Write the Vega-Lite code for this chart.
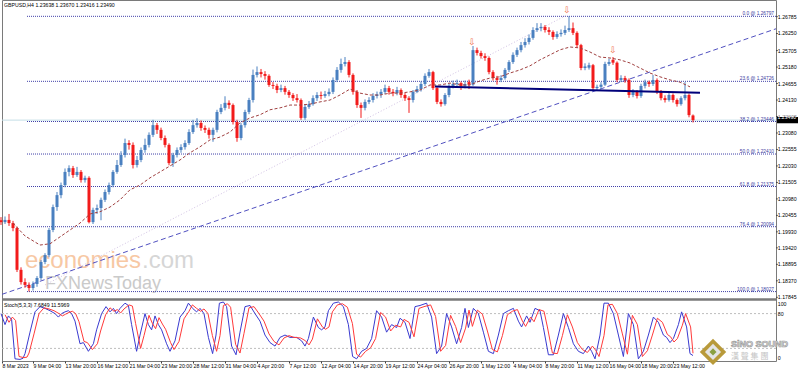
{
"$schema":"https://vega.github.io/schema/vega-lite/v6.json",
"width":774,"height":361,"autosize":"none",
"padding":{"left":2,"top":0,"right":22,"bottom":11},
"background":"#ffffff",
"config":{"view":{"stroke":"#7a7a7a"},"axis":{"labelFont":"Liberation Sans","labelFontSize":5.2,"labelColor":"#000000","domain":false,"grid":false,"tickColor":"#404040","tickSize":2,"labelPadding":0,"labelOverlap":false},"text":{"font":"Liberation Sans"}},
"datasets":{
"c":[
{"i":0,"o":1.2030,"h":1.2040,"l":1.2015,"c":1.2024},{"i":2,"o":1.2024,"h":1.2042,"l":1.2018,"c":1.2031},{"i":4,"o":1.2031,"h":1.2050,"l":1.2012,"c":1.2021},{"i":6,"o":1.2021,"h":1.2028,"l":1.1995,"c":1.2005},{"i":8,"o":1.2005,"h":1.2010,"l":1.1865,"c":1.1872},{"i":10,"o":1.1872,"h":1.1880,"l":1.1825,"c":1.1833},{"i":12,"o":1.1833,"h":1.1845,"l":1.1815,"c":1.1824},{"i":14,"o":1.1824,"h":1.1832,"l":1.1803,"c":1.1814},{"i":16,"o":1.1814,"h":1.1835,"l":1.1806,"c":1.1827},{"i":18,"o":1.1827,"h":1.1852,"l":1.1818,"c":1.1846},
{"i":20,"o":1.1846,"h":1.1903,"l":1.1840,"c":1.1897},{"i":22,"o":1.1897,"h":1.1925,"l":1.1890,"c":1.1919},{"i":24,"o":1.1919,"h":1.2005,"l":1.1912,"c":1.1999},{"i":26,"o":1.1999,"h":1.2080,"l":1.1992,"c":1.2072},{"i":28,"o":1.2072,"h":1.2120,"l":1.2060,"c":1.2110},{"i":30,"o":1.2110,"h":1.2150,"l":1.2100,"c":1.2142},{"i":32,"o":1.2142,"h":1.2195,"l":1.2135,"c":1.2184},{"i":34,"o":1.2184,"h":1.2205,"l":1.2170,"c":1.2196},{"i":36,"o":1.2196,"h":1.2203,"l":1.2165,"c":1.2174},{"i":38,"o":1.2174,"h":1.2200,"l":1.2168,"c":1.2184},
{"i":40,"o":1.2184,"h":1.2190,"l":1.2150,"c":1.2158},{"i":42,"o":1.2158,"h":1.2172,"l":1.2150,"c":1.2165},{"i":44,"o":1.2165,"h":1.2170,"l":1.2020,"c":1.2024},{"i":46,"o":1.2024,"h":1.2070,"l":1.2018,"c":1.2063},{"i":48,"o":1.2063,"h":1.2080,"l":1.2050,"c":1.2069},{"i":50,"o":1.2069,"h":1.2102,"l":1.2030,"c":1.2095},{"i":52,"o":1.2095,"h":1.2128,"l":1.2088,"c":1.2120},{"i":54,"o":1.2120,"h":1.2150,"l":1.2112,"c":1.2142},{"i":56,"o":1.2142,"h":1.2190,"l":1.2135,"c":1.2184},{"i":58,"o":1.2184,"h":1.2222,"l":1.2178,"c":1.2206},
{"i":60,"o":1.2206,"h":1.2250,"l":1.2200,"c":1.2238},{"i":62,"o":1.2238,"h":1.2290,"l":1.2230,"c":1.2276},{"i":64,"o":1.2276,"h":1.2285,"l":1.2255,"c":1.2270},{"i":66,"o":1.2270,"h":1.2278,"l":1.2195,"c":1.2206},{"i":68,"o":1.2206,"h":1.2235,"l":1.2198,"c":1.2222},{"i":70,"o":1.2222,"h":1.2262,"l":1.2215,"c":1.2254},{"i":72,"o":1.2254,"h":1.2290,"l":1.2245,"c":1.2270},{"i":74,"o":1.2270,"h":1.2310,"l":1.2262,"c":1.2302},{"i":76,"o":1.2302,"h":1.2350,"l":1.2295,"c":1.2333},{"i":78,"o":1.2333,"h":1.2340,"l":1.2305,"c":1.2318},
{"i":80,"o":1.2318,"h":1.2325,"l":1.2285,"c":1.2292},{"i":82,"o":1.2292,"h":1.2300,"l":1.2262,"c":1.2270},{"i":84,"o":1.2270,"h":1.2275,"l":1.2205,"c":1.2212},{"i":86,"o":1.2212,"h":1.2245,"l":1.2200,"c":1.2238},{"i":88,"o":1.2238,"h":1.2262,"l":1.2230,"c":1.2254},{"i":90,"o":1.2254,"h":1.2272,"l":1.2245,"c":1.2263},{"i":92,"o":1.2263,"h":1.2285,"l":1.2255,"c":1.2276},{"i":94,"o":1.2276,"h":1.2320,"l":1.2270,"c":1.2311},{"i":96,"o":1.2311,"h":1.2350,"l":1.2305,"c":1.2333},{"i":98,"o":1.2333,"h":1.2355,"l":1.2325,"c":1.2340},
{"i":100,"o":1.2340,"h":1.2348,"l":1.2315,"c":1.2324},{"i":102,"o":1.2324,"h":1.2332,"l":1.2308,"c":1.2318},{"i":104,"o":1.2318,"h":1.2325,"l":1.2290,"c":1.2302},{"i":106,"o":1.2302,"h":1.2325,"l":1.2280,"c":1.2318},{"i":108,"o":1.2318,"h":1.2382,"l":1.2310,"c":1.2375},{"i":110,"o":1.2375,"h":1.2400,"l":1.2368,"c":1.2388},{"i":112,"o":1.2388,"h":1.2425,"l":1.2380,"c":1.2404},{"i":114,"o":1.2404,"h":1.2412,"l":1.2385,"c":1.2397},{"i":116,"o":1.2397,"h":1.2402,"l":1.2335,"c":1.2343},{"i":118,"o":1.2343,"h":1.2350,"l":1.2280,"c":1.2292},
{"i":120,"o":1.2292,"h":1.2340,"l":1.2285,"c":1.2333},{"i":122,"o":1.2333,"h":1.2382,"l":1.2325,"c":1.2375},{"i":124,"o":1.2375,"h":1.2420,"l":1.2368,"c":1.2413},{"i":126,"o":1.2413,"h":1.2510,"l":1.2405,"c":1.2493},{"i":128,"o":1.2493,"h":1.2520,"l":1.2485,"c":1.2502},{"i":130,"o":1.2502,"h":1.2512,"l":1.2485,"c":1.2496},{"i":132,"o":1.2496,"h":1.2505,"l":1.2478,"c":1.2490},{"i":134,"o":1.2490,"h":1.2495,"l":1.2455,"c":1.2461},{"i":136,"o":1.2461,"h":1.2470,"l":1.2448,"c":1.2458},{"i":138,"o":1.2458,"h":1.2465,"l":1.2435,"c":1.2445},
{"i":140,"o":1.2445,"h":1.2462,"l":1.2438,"c":1.2451},{"i":142,"o":1.2451,"h":1.2458,"l":1.2430,"c":1.2439},{"i":144,"o":1.2439,"h":1.2445,"l":1.2420,"c":1.2429},{"i":146,"o":1.2429,"h":1.2435,"l":1.2410,"c":1.2419},{"i":148,"o":1.2419,"h":1.2432,"l":1.2405,"c":1.2413},{"i":150,"o":1.2413,"h":1.2418,"l":1.2350,"c":1.2356},{"i":152,"o":1.2356,"h":1.2398,"l":1.2350,"c":1.2391},{"i":154,"o":1.2391,"h":1.2410,"l":1.2385,"c":1.2400},{"i":156,"o":1.2400,"h":1.2428,"l":1.2395,"c":1.2419},{"i":158,"o":1.2419,"h":1.2438,"l":1.2410,"c":1.2429},
{"i":160,"o":1.2429,"h":1.2440,"l":1.2415,"c":1.2426},{"i":162,"o":1.2426,"h":1.2442,"l":1.2420,"c":1.2432},{"i":164,"o":1.2432,"h":1.2450,"l":1.2425,"c":1.2439},{"i":166,"o":1.2439,"h":1.2485,"l":1.2432,"c":1.2477},{"i":168,"o":1.2477,"h":1.2518,"l":1.2470,"c":1.2509},{"i":170,"o":1.2509,"h":1.2545,"l":1.2500,"c":1.2528},{"i":172,"o":1.2528,"h":1.2550,"l":1.2520,"c":1.2534},{"i":174,"o":1.2534,"h":1.2540,"l":1.2485,"c":1.2493},{"i":176,"o":1.2493,"h":1.2498,"l":1.2430,"c":1.2439},{"i":178,"o":1.2439,"h":1.2445,"l":1.2388,"c":1.2397},
{"i":180,"o":1.2397,"h":1.2405,"l":1.2356,"c":1.2388},{"i":182,"o":1.2388,"h":1.2415,"l":1.2380,"c":1.2407},{"i":184,"o":1.2407,"h":1.2422,"l":1.2400,"c":1.2413},{"i":186,"o":1.2413,"h":1.2435,"l":1.2405,"c":1.2426},{"i":188,"o":1.2426,"h":1.2440,"l":1.2418,"c":1.2431},{"i":190,"o":1.2431,"h":1.2448,"l":1.2420,"c":1.2439},{"i":192,"o":1.2439,"h":1.2462,"l":1.2432,"c":1.2451},{"i":194,"o":1.2451,"h":1.2458,"l":1.2430,"c":1.2439},{"i":196,"o":1.2439,"h":1.2448,"l":1.2425,"c":1.2435},{"i":198,"o":1.2435,"h":1.2455,"l":1.2428,"c":1.2445},
{"i":200,"o":1.2445,"h":1.2450,"l":1.2420,"c":1.2429},{"i":202,"o":1.2429,"h":1.2435,"l":1.2410,"c":1.2419},{"i":204,"o":1.2419,"h":1.2425,"l":1.2372,"c":1.2413},{"i":206,"o":1.2413,"h":1.2445,"l":1.2405,"c":1.2439},{"i":208,"o":1.2439,"h":1.2458,"l":1.2435,"c":1.2448},{"i":210,"o":1.2448,"h":1.2472,"l":1.2440,"c":1.2464},{"i":212,"o":1.2464,"h":1.2498,"l":1.2458,"c":1.2490},{"i":214,"o":1.2490,"h":1.2512,"l":1.2484,"c":1.2502},{"i":216,"o":1.2502,"h":1.2506,"l":1.2445,"c":1.2451},{"i":218,"o":1.2451,"h":1.2456,"l":1.2400,"c":1.2407},
{"i":220,"o":1.2407,"h":1.2415,"l":1.2392,"c":1.2400},{"i":222,"o":1.2400,"h":1.2435,"l":1.2395,"c":1.2429},{"i":224,"o":1.2429,"h":1.2465,"l":1.2422,"c":1.2458},{"i":226,"o":1.2458,"h":1.2475,"l":1.2450,"c":1.2464},{"i":228,"o":1.2464,"h":1.2478,"l":1.2455,"c":1.2467},{"i":230,"o":1.2467,"h":1.2472,"l":1.2445,"c":1.2458},{"i":232,"o":1.2458,"h":1.2475,"l":1.2450,"c":1.2464},{"i":234,"o":1.2470,"h":1.2478,"l":1.2448,"c":1.2462},{"i":236,"o":1.2462,"h":1.2585,"l":1.2458,"c":1.2572},{"i":238,"o":1.2572,"h":1.2580,"l":1.2555,"c":1.2563},
{"i":240,"o":1.2563,"h":1.2570,"l":1.2545,"c":1.2553},{"i":242,"o":1.2553,"h":1.2562,"l":1.2538,"c":1.2547},{"i":244,"o":1.2547,"h":1.2552,"l":1.2495,"c":1.2502},{"i":246,"o":1.2502,"h":1.2508,"l":1.2475,"c":1.2483},{"i":248,"o":1.2483,"h":1.2490,"l":1.2462,"c":1.2477},{"i":250,"o":1.2477,"h":1.2492,"l":1.2470,"c":1.2483},{"i":252,"o":1.2483,"h":1.2515,"l":1.2478,"c":1.2509},{"i":254,"o":1.2509,"h":1.2540,"l":1.2502,"c":1.2534},{"i":256,"o":1.2534,"h":1.2565,"l":1.2528,"c":1.2557},{"i":258,"o":1.2557,"h":1.2580,"l":1.2550,"c":1.2572},
{"i":260,"o":1.2572,"h":1.2598,"l":1.2565,"c":1.2588},{"i":262,"o":1.2588,"h":1.2610,"l":1.2580,"c":1.2598},{"i":264,"o":1.2598,"h":1.2622,"l":1.2590,"c":1.2611},{"i":266,"o":1.2611,"h":1.2645,"l":1.2605,"c":1.2636},{"i":268,"o":1.2636,"h":1.2658,"l":1.2630,"c":1.2642},{"i":270,"o":1.2642,"h":1.2658,"l":1.2632,"c":1.2646},{"i":272,"o":1.2646,"h":1.2652,"l":1.2628,"c":1.2636},{"i":274,"o":1.2636,"h":1.2645,"l":1.2620,"c":1.2630},{"i":276,"o":1.2630,"h":1.2635,"l":1.2605,"c":1.2614},{"i":278,"o":1.2614,"h":1.2632,"l":1.2608,"c":1.2623},
{"i":280,"o":1.2623,"h":1.2638,"l":1.2615,"c":1.2627},{"i":282,"o":1.2627,"h":1.2650,"l":1.2620,"c":1.2636},{"i":284,"o":1.2636,"h":1.2680,"l":1.2630,"c":1.2642},{"i":286,"o":1.2642,"h":1.2660,"l":1.2620,"c":1.2627},{"i":288,"o":1.2627,"h":1.2632,"l":1.2580,"c":1.2588},{"i":290,"o":1.2588,"h":1.2592,"l":1.2508,"c":1.2515},{"i":292,"o":1.2515,"h":1.2530,"l":1.2508,"c":1.2520},{"i":294,"o":1.2516,"h":1.2532,"l":1.2510,"c":1.2524},{"i":296,"o":1.2524,"h":1.2528,"l":1.2445,"c":1.2451},{"i":298,"o":1.2451,"h":1.2462,"l":1.2442,"c":1.2455},
{"i":300,"o":1.2455,"h":1.2470,"l":1.2448,"c":1.2462},{"i":302,"o":1.2462,"h":1.2535,"l":1.2458,"c":1.2528},{"i":304,"o":1.2528,"h":1.2545,"l":1.2522,"c":1.2534},{"i":306,"o":1.2541,"h":1.2550,"l":1.2525,"c":1.2532},{"i":308,"o":1.2532,"h":1.2536,"l":1.2470,"c":1.2477},{"i":310,"o":1.2477,"h":1.2492,"l":1.2470,"c":1.2483},{"i":312,"o":1.2483,"h":1.2490,"l":1.2468,"c":1.2477},{"i":314,"o":1.2477,"h":1.2482,"l":1.2420,"c":1.2429},{"i":316,"o":1.2429,"h":1.2448,"l":1.2422,"c":1.2439},{"i":318,"o":1.2439,"h":1.2445,"l":1.2418,"c":1.2426},
{"i":320,"o":1.2426,"h":1.2465,"l":1.2420,"c":1.2458},{"i":322,"o":1.2458,"h":1.2478,"l":1.2450,"c":1.2470},{"i":324,"o":1.2470,"h":1.2475,"l":1.2455,"c":1.2464},{"i":326,"o":1.2464,"h":1.2493,"l":1.2458,"c":1.2477},{"i":328,"o":1.2477,"h":1.2482,"l":1.2432,"c":1.2439},{"i":330,"o":1.2439,"h":1.2445,"l":1.2412,"c":1.2419},{"i":332,"o":1.2419,"h":1.2428,"l":1.2405,"c":1.2413},{"i":334,"o":1.2413,"h":1.2436,"l":1.2408,"c":1.2429},{"i":336,"o":1.2429,"h":1.2434,"l":1.2405,"c":1.2413},{"i":338,"o":1.2413,"h":1.2418,"l":1.2392,"c":1.2400},
{"i":340,"o":1.2400,"h":1.2425,"l":1.2395,"c":1.2419},{"i":342,"o":1.2419,"h":1.2470,"l":1.2412,"c":1.2429},{"i":344,"o":1.2429,"h":1.2434,"l":1.2358,"c":1.2365},{"i":346,"o":1.23638,"h":1.23670,"l":1.23416,"c":1.23490}
],
"ma":[{"i":6,"m":1.2021},{"i":12,"m":1.1980},{"i":19.5,"m":1.1951},{"i":24.5,"m":1.1955},{"i":29.5,"m":1.1977},{"i":34.5,"m":1.1999},{"i":39.5,"m":1.2021},{"i":44.5,"m":1.2050},{"i":49.5,"m":1.2057},{"i":54.5,"m":1.2072},{"i":59.5,"m":1.2095},{"i":64.5,"m":1.2127},{"i":69.5,"m":1.2142},{"i":74.5,"m":1.2165},{"i":79.5,"m":1.2184},{"i":84.5,"m":1.2203},{"i":89.5,"m":1.2222},{"i":94.5,"m":1.2245},{"i":99.5,"m":1.2264},{"i":104.5,"m":1.2286},{"i":109.5,"m":1.2295},{"i":114.5,"m":1.2311},{"i":119.5,"m":1.2340},{"i":124.5,"m":1.2356},{"i":129.5,"m":1.2366},{"i":134.5,"m":1.2382},{"i":139.5,"m":1.2388},{"i":144.5,"m":1.2397},{"i":149.5,"m":1.2397},{"i":154.5,"m":1.2400},{"i":159.5,"m":1.2407},{"i":164.5,"m":1.2413},{"i":169.5,"m":1.2429},{"i":174.5,"m":1.2448},{"i":179.5,"m":1.2435},{"i":184.5,"m":1.2429},{"i":189.5,"m":1.2429},{"i":194.5,"m":1.2435},{"i":199.5,"m":1.2435},{"i":204.5,"m":1.2439},{"i":209.5,"m":1.2445},{"i":214.5,"m":1.2461},{"i":219.5,"m":1.2461},{"i":224.5,"m":1.2467},{"i":229.5,"m":1.2461},{"i":234.5,"m":1.2461},{"i":239.5,"m":1.2474},{"i":244.5,"m":1.2483},{"i":249.5,"m":1.2487},{"i":254.5,"m":1.2499},{"i":259.5,"m":1.2509},{"i":264.5,"m":1.2522},{"i":269.5,"m":1.2541},{"i":274.5,"m":1.2557},{"i":279.5,"m":1.2573},{"i":284.5,"m":1.2582},{"i":289.5,"m":1.2579},{"i":294.5,"m":1.2566},{"i":299.5,"m":1.2550},{"i":304.5,"m":1.2547},{"i":309.5,"m":1.2541},{"i":314.5,"m":1.2531},{"i":319.5,"m":1.2515},{"i":324.5,"m":1.2499},{"i":329.5,"m":1.2487},{"i":334.5,"m":1.2477},{"i":339.5,"m":1.2470},{"i":344.5,"m":1.2455}],
"fib":[{"i":13,"i2":387.5,"li":386.5,"p":1.26797,"t":"0.0 @ 1.26797"},{"i":13,"i2":387.5,"li":386.5,"p":1.24726,"t":"23.6 @ 1.24726"},{"i":13,"i2":387.5,"li":386.5,"p":1.23446,"t":"38.2 @ 1.23446"},{"i":13,"i2":387.5,"li":386.5,"p":1.22410,"t":"50.0 @ 1.22410"},{"i":13,"i2":387.5,"li":386.5,"p":1.21375,"t":"61.8 @ 1.21375"},{"i":13,"i2":387.5,"li":386.5,"p":1.20094,"t":"76.4 @ 1.20094"},{"i":13,"i2":387.5,"li":386.5,"p":1.18027,"t":"100.0 @ 1.18027"}],
"pl":[{"i":387.5,"i2":388.4,"p":1.26785,"t":"1.26785"},{"i":387.5,"i2":388.4,"p":1.2625,"t":"1.26250"},{"i":387.5,"i2":388.4,"p":1.25705,"t":"1.25705"},{"i":387.5,"i2":388.4,"p":1.2518,"t":"1.25180"},{"i":387.5,"i2":388.4,"p":1.24655,"t":"1.24655"},{"i":387.5,"i2":388.4,"p":1.2413,"t":"1.24130"},{"i":387.5,"i2":388.4,"p":1.23605,"t":"1.23605"},{"i":387.5,"i2":388.4,"p":1.2308,"t":"1.23080"},{"i":387.5,"i2":388.4,"p":1.22555,"t":"1.22555"},{"i":387.5,"i2":388.4,"p":1.2203,"t":"1.22030"},{"i":387.5,"i2":388.4,"p":1.21505,"t":"1.21505"},{"i":387.5,"i2":388.4,"p":1.2098,"t":"1.20980"},{"i":387.5,"i2":388.4,"p":1.20455,"t":"1.20455"},{"i":387.5,"i2":388.4,"p":1.1993,"t":"1.19930"},{"i":387.5,"i2":388.4,"p":1.1942,"t":"1.19420"},{"i":387.5,"i2":388.4,"p":1.18895,"t":"1.18895"},{"i":387.5,"i2":388.4,"p":1.1837,"t":"1.18370"},{"i":387.5,"i2":388.4,"p":1.17845,"t":"1.17845"}],
"bid":[{"i":0.5,"i2":387.5,"p":1.2349}],
"box":[{"i":388,"i2":398.5,"p":1.2359,"p2":1.2339,"t":"1.23490"}],
"tl1":[{"i":0.5,"i2":387.5,"p":1.1794,"p2":1.2640}],
"tl2":[{"i":22,"i2":283,"p":1.1824,"p2":1.2684}],
"nk":[{"i":217,"i2":349.5,"p":1.2456,"p2":1.2436}],
"fr":[{"i":235.5,"p":1.2598},{"i":283,"p":1.2700},{"i":306,"p":1.2573}],
"wm":[{"i":12,"p":1.1878,"k":"a","t":"economies"},{"i":70.5,"p":1.1878,"k":"b","t":".com"},{"i":22,"p":1.1811,"k":"c","t":"FXNewsToday"}],
"lbl":[{"i":1.5,"p":1.2716,"t":"GBPUSD,H4  1.23638 1.23670 1.23416 1.23490"}],
"sep":[{"i":0.5,"i2":387.5,"v":104.3}],
"lv":[{"i":0.5,"i2":387.5,"v":80},{"i":0.5,"i2":387.5,"v":20}],
"stl":[{"i":387.5,"i2":388.4,"v":96.6,"t":"100"},{"i":387.5,"i2":388.4,"v":80,"t":"80"},{"i":387.5,"i2":388.4,"v":3.4,"t":"0"}],
"sl":[{"i":1.5,"v":95,"t":"Stoch(5,3,3) 7.6849 11.5969"}],
"logo":[{"i":356,"v":14,"k":"d"},{"i":365,"v":28,"k":"t","t":"SiNO SOUND"},{"i":365,"v":5,"k":"h","t":"漢 聲 集 團"}],
"sk":[{"i":0,"v":80},{"i":2,"v":61},{"i":3.7,"v":76},{"i":5.3,"v":70},{"i":7,"v":2},{"i":9.5,"v":1},{"i":11,"v":3},{"i":12,"v":11},{"i":14.5,"v":48},{"i":17,"v":83},{"i":19.5,"v":92},{"i":22,"v":89},{"i":24.5,"v":85},{"i":27,"v":80},{"i":28.7,"v":74},{"i":30.3,"v":80},{"i":32,"v":83},{"i":33.7,"v":85},{"i":35.3,"v":80},{"i":37,"v":67},{"i":39.5,"v":28},{"i":41.2,"v":30},{"i":43.7,"v":15},{"i":46.2,"v":28},{"i":47.8,"v":52},{"i":50.3,"v":80},{"i":52.5,"v":92},{"i":54.5,"v":83},{"i":56.2,"v":89},{"i":57.8,"v":80},{"i":59.5,"v":89},{"i":62,"v":98},{"i":63.7,"v":94},{"i":65.3,"v":61},{"i":67.8,"v":15},{"i":69.5,"v":43},{"i":72,"v":80},{"i":73.7,"v":61},{"i":75.3,"v":52},{"i":77,"v":76},{"i":78.7,"v":61},{"i":80.3,"v":52},{"i":82.8,"v":28},{"i":84.5,"v":15},{"i":87,"v":33},{"i":89.5,"v":74},{"i":92,"v":85},{"i":93.7,"v":98},{"i":95.8,"v":89},{"i":97.8,"v":83},{"i":99.5,"v":89},{"i":101.5,"v":80},{"i":103.7,"v":39},{"i":105.8,"v":11},{"i":107.5,"v":43},{"i":109.2,"v":98},{"i":111.2,"v":100},{"i":112.8,"v":92},{"i":115.3,"v":24},{"i":117.5,"v":9},{"i":119.5,"v":48},{"i":122,"v":92},{"i":124.5,"v":94},{"i":127,"v":80},{"i":129.5,"v":67},{"i":132,"v":43},{"i":134.5,"v":30},{"i":137,"v":24},{"i":139.5,"v":39},{"i":142,"v":43},{"i":144.5,"v":39},{"i":147.8,"v":39},{"i":150.3,"v":33},{"i":152,"v":24},{"i":153.7,"v":37},{"i":156.2,"v":74},{"i":158.7,"v":56},{"i":160.3,"v":52},{"i":162,"v":57},{"i":163.7,"v":85},{"i":166.2,"v":98},{"i":168.7,"v":100},{"i":171.2,"v":92},{"i":173.7,"v":61},{"i":175.8,"v":6},{"i":177.8,"v":2},{"i":180.3,"v":15},{"i":182.8,"v":20},{"i":185.3,"v":37},{"i":187.8,"v":85},{"i":190.3,"v":74},{"i":192.8,"v":48},{"i":195.3,"v":61},{"i":197.8,"v":56},{"i":199.5,"v":72},{"i":202,"v":65},{"i":204.5,"v":37},{"i":207,"v":92},{"i":209.5,"v":94},{"i":212.8,"v":98},{"i":215.3,"v":74},{"i":217.8,"v":11},{"i":220.3,"v":24},{"i":222.8,"v":80},{"i":225.3,"v":57},{"i":227.8,"v":28},{"i":230.3,"v":56},{"i":232,"v":89},{"i":233.7,"v":56},{"i":236.2,"v":89},{"i":238.7,"v":80},{"i":241.2,"v":48},{"i":243.7,"v":15},{"i":246.2,"v":11},{"i":248.7,"v":43},{"i":251.2,"v":80},{"i":253.7,"v":85},{"i":256.2,"v":89},{"i":258.7,"v":67},{"i":260.3,"v":57},{"i":262.8,"v":76},{"i":264.5,"v":65},{"i":267,"v":89},{"i":269.5,"v":85},{"i":271.2,"v":56},{"i":273.7,"v":9},{"i":276.2,"v":9},{"i":278.7,"v":43},{"i":281.2,"v":80},{"i":283.7,"v":56},{"i":286.2,"v":28},{"i":288.7,"v":15},{"i":291.2,"v":11},{"i":293.7,"v":24},{"i":295.3,"v":15},{"i":297,"v":2},{"i":299.5,"v":43},{"i":301.5,"v":98},{"i":303.7,"v":98},{"i":306.2,"v":80},{"i":308.7,"v":43},{"i":311.2,"v":6},{"i":313.7,"v":80},{"i":316.2,"v":61},{"i":318.7,"v":2},{"i":321.2,"v":15},{"i":323.7,"v":43},{"i":326.2,"v":74},{"i":328.7,"v":65},{"i":331.2,"v":43},{"i":332.8,"v":39},{"i":334.5,"v":30},{"i":336.2,"v":37},{"i":338.7,"v":61},{"i":340.3,"v":83},{"i":342.8,"v":57},{"i":344.5,"v":11},{"i":346,"v":7.68}],
"sd":[{"i":2,"v":78},{"i":4,"v":65},{"i":5.7,"v":74},{"i":7.3,"v":68},{"i":9,"v":6},{"i":11.5,"v":4},{"i":13,"v":5},{"i":14,"v":12},{"i":16.5,"v":45},{"i":19,"v":80},{"i":21.5,"v":90},{"i":24,"v":88},{"i":26.5,"v":85},{"i":29,"v":80},{"i":30.7,"v":76},{"i":32.3,"v":79},{"i":34,"v":82},{"i":35.7,"v":84},{"i":37.3,"v":80},{"i":39,"v":66},{"i":41.5,"v":32},{"i":43.2,"v":30},{"i":45.7,"v":18},{"i":48.2,"v":28},{"i":49.8,"v":50},{"i":52.3,"v":78},{"i":54.5,"v":90},{"i":56.5,"v":84},{"i":58.2,"v":87},{"i":59.8,"v":81},{"i":61.5,"v":88},{"i":64,"v":95},{"i":65.7,"v":93},{"i":67.3,"v":63},{"i":69.8,"v":20},{"i":71.5,"v":42},{"i":74,"v":77},{"i":75.7,"v":63},{"i":77.3,"v":54},{"i":79,"v":73},{"i":80.7,"v":62},{"i":82.3,"v":53},{"i":84.8,"v":30},{"i":86.5,"v":18},{"i":89,"v":32},{"i":91.5,"v":71},{"i":94,"v":84},{"i":95.7,"v":95},{"i":97.8,"v":89},{"i":99.8,"v":84},{"i":101.5,"v":88},{"i":103.5,"v":80},{"i":105.7,"v":42},{"i":107.8,"v":15},{"i":109.5,"v":42},{"i":111.2,"v":94},{"i":113.2,"v":97},{"i":114.8,"v":91},{"i":117.3,"v":27},{"i":119.5,"v":12},{"i":121.5,"v":46},{"i":124,"v":90},{"i":126.5,"v":92},{"i":129,"v":80},{"i":131.5,"v":67},{"i":134,"v":45},{"i":136.5,"v":32},{"i":139,"v":26},{"i":141.5,"v":38},{"i":144,"v":42},{"i":146.5,"v":39},{"i":149.8,"v":38},{"i":152.3,"v":33},{"i":154,"v":26},{"i":155.7,"v":36},{"i":158.2,"v":71},{"i":160.7,"v":57},{"i":162.3,"v":53},{"i":164,"v":57},{"i":165.7,"v":83},{"i":168.2,"v":95},{"i":170.7,"v":97},{"i":173.2,"v":91},{"i":175.7,"v":63},{"i":177.8,"v":10},{"i":179.8,"v":5},{"i":182.3,"v":15},{"i":184.8,"v":21},{"i":187.3,"v":37},{"i":189.8,"v":82},{"i":192.3,"v":74},{"i":194.8,"v":50},{"i":197.3,"v":60},{"i":199.8,"v":57},{"i":201.5,"v":70},{"i":204,"v":65},{"i":206.5,"v":40},{"i":209,"v":89},{"i":211.5,"v":92},{"i":214.8,"v":95},{"i":217.3,"v":75},{"i":219.8,"v":15},{"i":222.3,"v":25},{"i":224.8,"v":77},{"i":227.3,"v":58},{"i":229.8,"v":30},{"i":232.3,"v":55},{"i":234,"v":86},{"i":235.7,"v":58},{"i":238.2,"v":86},{"i":240.7,"v":79},{"i":243.2,"v":50},{"i":245.7,"v":18},{"i":248.2,"v":14},{"i":250.7,"v":42},{"i":253.2,"v":78},{"i":255.7,"v":84},{"i":258.2,"v":87},{"i":260.7,"v":67},{"i":262.3,"v":58},{"i":264.8,"v":74},{"i":266.5,"v":66},{"i":269,"v":87},{"i":271.5,"v":84},{"i":273.2,"v":57},{"i":275.7,"v":12},{"i":278.2,"v":11},{"i":280.7,"v":42},{"i":283.2,"v":78},{"i":285.7,"v":57},{"i":288.2,"v":30},{"i":290.7,"v":18},{"i":293.2,"v":13},{"i":295.7,"v":24},{"i":297.3,"v":17},{"i":299,"v":6},{"i":301.5,"v":42},{"i":303.5,"v":95},{"i":305.7,"v":96},{"i":308.2,"v":80},{"i":310.7,"v":45},{"i":313.2,"v":10},{"i":315.7,"v":77},{"i":318.2,"v":61},{"i":320.7,"v":6},{"i":323.2,"v":16},{"i":325.7,"v":43},{"i":328.2,"v":72},{"i":330.7,"v":65},{"i":333.2,"v":44},{"i":334.8,"v":40},{"i":336.5,"v":31},{"i":338.2,"v":37},{"i":340.7,"v":60},{"i":342.3,"v":80},{"i":344.8,"v":57},{"i":346,"v":11.6}]
},
"encoding":{"x":{"field":"i","type":"quantitative","scale":{"domain":[0.5,387.5],"nice":false,"zero":false},"axis":{"title":null,"values":[0.5,16,32,48,64,80,96,112,128,144,160,176,192,208,224,240,256,272,288,304,320,336],"labelExpr":"['8 Mar 2023','9 Mar 04:00','13 Mar 20:00','16 Mar 12:00','21 Mar 04:00','23 Mar 20:00','28 Mar 12:00','31 Mar 04:00','4 Apr 20:00','7 Apr 12:00','12 Apr 04:00','14 Apr 20:00','19 Apr 12:00','24 Apr 04:00','26 Apr 20:00','1 May 12:00','4 May 04:00','8 May 20:00','11 May 12:00','16 May 04:00','18 May 20:00','23 May 12:00'][round(datum.value/16)]","labelAlign":"left","labelBaseline":"top","labelFlush":false,"labelBound":false}}},
"layer":[
{"layer":[
{"data":{"name":"wm"},"transform":[{"filter":"datum.k=='a'"}],"mark":{"type":"text","fontSize":24,"color":"#F7C8A4","align":"left","baseline":"alphabetic"},"encoding":{"y":{"field":"p","type":"quantitative","scale":{"domain":[1.17845,1.26785],"range":[297.3,16.7],"nice":false,"zero":false},"axis":null},"text":{"field":"t"}}},
{"data":{"name":"wm"},"transform":[{"filter":"datum.k=='b'"}],"mark":{"type":"text","fontSize":24,"color":"#D6D6D6","align":"left","baseline":"alphabetic"},"encoding":{"y":{"field":"p","type":"quantitative","scale":{"domain":[1.17845,1.26785],"range":[297.3,16.7],"nice":false,"zero":false},"axis":null},"text":{"field":"t"}}},
{"data":{"name":"wm"},"transform":[{"filter":"datum.k=='c'"}],"mark":{"type":"text","fontSize":18,"color":"#CACACA","align":"left","baseline":"alphabetic"},"encoding":{"y":{"field":"p","type":"quantitative","scale":{"domain":[1.17845,1.26785],"range":[297.3,16.7],"nice":false,"zero":false},"axis":null},"text":{"field":"t"}}},
{"data":{"name":"fib"},"mark":{"type":"rule","color":"#4040A8","strokeDash":[1,1],"strokeWidth":1},"encoding":{"x2":{"field":"i2"},"y":{"field":"p","type":"quantitative","scale":{"domain":[1.17845,1.26785],"range":[297.3,16.7],"nice":false,"zero":false},"axis":null}}},
{"data":{"name":"bid"},"mark":{"type":"rule","color":"#C4DEE6","strokeWidth":1},"encoding":{"x2":{"field":"i2"},"y":{"field":"p","type":"quantitative","scale":{"domain":[1.17845,1.26785],"range":[297.3,16.7],"nice":false,"zero":false},"axis":null}}},
{"data":{"name":"tl2"},"mark":{"type":"rule","color":"#D2C2E4","strokeDash":[1,2],"strokeWidth":1},"encoding":{"x2":{"field":"i2"},"y":{"field":"p","type":"quantitative","scale":{"domain":[1.17845,1.26785],"range":[297.3,16.7],"nice":false,"zero":false},"axis":null},"y2":{"field":"p2"}}},
{"data":{"name":"tl1"},"mark":{"type":"rule","color":"#5050C0","strokeDash":[5,3],"strokeWidth":1},"encoding":{"x2":{"field":"i2"},"y":{"field":"p","type":"quantitative","scale":{"domain":[1.17845,1.26785],"range":[297.3,16.7],"nice":false,"zero":false},"axis":null},"y2":{"field":"p2"}}},
{"data":{"name":"c"},"mark":{"type":"rule","strokeWidth":1},"encoding":{"y":{"field":"l","type":"quantitative","scale":{"domain":[1.17845,1.26785],"range":[297.3,16.7],"nice":false,"zero":false},"axis":null},"y2":{"field":"h"},"color":{"condition":{"test":"datum.c>=datum.o","value":"#4A80C0"},"value":"#F21B1B"}}},
{"data":{"name":"c"},"mark":{"type":"rule","strokeWidth":3,"strokeCap":"butt"},"encoding":{"y":{"field":"o","type":"quantitative","scale":{"domain":[1.17845,1.26785],"range":[297.3,16.7],"nice":false,"zero":false},"axis":null},"y2":{"field":"c"},"color":{"condition":{"test":"datum.c>=datum.o","value":"#4A80C0"},"value":"#F21B1B"}}},
{"data":{"name":"ma"},"mark":{"type":"line","color":"#A04040","strokeWidth":1,"strokeDash":[3,2]},"encoding":{"y":{"field":"m","type":"quantitative","scale":{"domain":[1.17845,1.26785],"range":[297.3,16.7],"nice":false,"zero":false},"axis":null}}},
{"data":{"name":"nk"},"mark":{"type":"rule","color":"#00007A","strokeWidth":2},"encoding":{"x2":{"field":"i2"},"y":{"field":"p","type":"quantitative","scale":{"domain":[1.17845,1.26785],"range":[297.3,16.7],"nice":false,"zero":false},"axis":null},"y2":{"field":"p2"}}},
{"data":{"name":"fr"},"mark":{"type":"text","text":"⇩","font":"DejaVu Sans","fontSize":9,"color":"#F07050","baseline":"middle"},"encoding":{"y":{"field":"p","type":"quantitative","scale":{"domain":[1.17845,1.26785],"range":[297.3,16.7],"nice":false,"zero":false},"axis":null}}},
{"data":{"name":"fib"},"mark":{"type":"text","fontSize":4.8,"color":"#3A3AA0","align":"right","baseline":"alphabetic","dy":-1},"encoding":{"x":{"field":"li","type":"quantitative"},"y":{"field":"p","type":"quantitative","scale":{"domain":[1.17845,1.26785],"range":[297.3,16.7],"nice":false,"zero":false},"axis":null},"text":{"field":"t"}}},
{"data":{"name":"lbl"},"mark":{"type":"text","fontSize":5.2,"color":"#000000","align":"left","baseline":"middle"},"encoding":{"y":{"field":"p","type":"quantitative","scale":{"domain":[1.17845,1.26785],"range":[297.3,16.7],"nice":false,"zero":false},"axis":null},"text":{"field":"t"}}},
{"data":{"name":"pl"},"mark":{"type":"rule","color":"#404040","strokeWidth":1},"encoding":{"x2":{"field":"i2"},"y":{"field":"p","type":"quantitative","scale":{"domain":[1.17845,1.26785],"range":[297.3,16.7],"nice":false,"zero":false},"axis":null}}},
{"data":{"name":"pl"},"mark":{"type":"text","fontSize":5.2,"color":"#000000","align":"left","baseline":"middle"},"encoding":{"x":{"field":"i2","type":"quantitative"},"y":{"field":"p","type":"quantitative","scale":{"domain":[1.17845,1.26785],"range":[297.3,16.7],"nice":false,"zero":false},"axis":null},"text":{"field":"t"}}},
{"data":{"name":"box"},"mark":{"type":"rect","color":"#000000"},"encoding":{"x2":{"field":"i2"},"y":{"field":"p","type":"quantitative","scale":{"domain":[1.17845,1.26785],"range":[297.3,16.7],"nice":false,"zero":false},"axis":null},"y2":{"field":"p2"}}},
{"data":{"name":"box"},"mark":{"type":"text","fontSize":5.2,"color":"#ffffff","align":"left","baseline":"middle","dx":0.5},"encoding":{"y":{"field":"p","type":"quantitative","scale":{"domain":[1.17845,1.26785],"range":[297.3,16.7],"nice":false,"zero":false},"axis":null},"text":{"field":"t"}}}
]},
{"layer":[
{"data":{"name":"sep"},"mark":{"type":"rule","color":"#7a7a7a","strokeWidth":2.5},"encoding":{"x2":{"field":"i2"},"y":{"field":"v","type":"quantitative","scale":{"domain":[0,100],"range":[360,302],"nice":false,"zero":false},"axis":null}}},
{"data":{"name":"lv"},"mark":{"type":"rule","color":"#BDBDBD","strokeDash":[2,2],"strokeWidth":1},"encoding":{"x2":{"field":"i2"},"y":{"field":"v","type":"quantitative","scale":{"domain":[0,100],"range":[360,302],"nice":false,"zero":false},"axis":null}}},
{"data":{"name":"sk"},"mark":{"type":"line","color":"#3A3AD0","strokeWidth":1},"encoding":{"y":{"field":"v","type":"quantitative","scale":{"domain":[0,100],"range":[360,302],"nice":false,"zero":false},"axis":null}}},
{"data":{"name":"sd"},"mark":{"type":"line","color":"#FF3A3A","strokeWidth":1},"encoding":{"y":{"field":"v","type":"quantitative","scale":{"domain":[0,100],"range":[360,302],"nice":false,"zero":false},"axis":null}}},
{"data":{"name":"sl"},"mark":{"type":"text","fontSize":5.2,"color":"#000000","align":"left","baseline":"middle"},"encoding":{"y":{"field":"v","type":"quantitative","scale":{"domain":[0,100],"range":[360,302],"nice":false,"zero":false},"axis":null},"text":{"field":"t"}}},
{"data":{"name":"stl"},"mark":{"type":"text","fontSize":5.2,"color":"#000000","align":"left","baseline":"middle"},"encoding":{"x":{"field":"i2","type":"quantitative"},"y":{"field":"v","type":"quantitative","scale":{"domain":[0,100],"range":[360,302],"nice":false,"zero":false},"axis":null},"text":{"field":"t"}}},
{"data":{"name":"logo"},"transform":[{"filter":"datum.k=='d'"}],"mark":{"type":"point","shape":"diamond","size":700,"filled":true,"color":"#B89A3A","opacity":1},"encoding":{"y":{"field":"v","type":"quantitative","scale":{"domain":[0,100],"range":[360,302],"nice":false,"zero":false},"axis":null}}},
{"data":{"name":"logo"},"transform":[{"filter":"datum.k=='d'"}],"mark":{"type":"point","shape":"diamond","size":260,"filled":true,"color":"#E4E4E4","opacity":1},"encoding":{"y":{"field":"v","type":"quantitative","scale":{"domain":[0,100],"range":[360,302],"nice":false,"zero":false},"axis":null}}},
{"data":{"name":"logo"},"transform":[{"filter":"datum.k=='d'"}],"mark":{"type":"point","shape":"diamond","size":50,"filled":true,"color":"#8AA040","opacity":1},"encoding":{"y":{"field":"v","type":"quantitative","scale":{"domain":[0,100],"range":[360,302],"nice":false,"zero":false},"axis":null}}},
{"data":{"name":"logo"},"transform":[{"filter":"datum.k=='t'"}],"mark":{"type":"text","fontSize":9,"fontWeight":"bold","color":"#F2F2F2","stroke":"#9A9A9A","strokeWidth":0.7,"align":"left","baseline":"middle"},"encoding":{"y":{"field":"v","type":"quantitative","scale":{"domain":[0,100],"range":[360,302],"nice":false,"zero":false},"axis":null},"text":{"field":"t"}}},
{"data":{"name":"logo"},"transform":[{"filter":"datum.k=='h'"}],"mark":{"type":"text","font":"Noto Sans CJK TC","fontSize":8,"color":"#C4C4C4","align":"left","baseline":"middle"},"encoding":{"y":{"field":"v","type":"quantitative","scale":{"domain":[0,100],"range":[360,302],"nice":false,"zero":false},"axis":null},"text":{"field":"t"}}}
]}
],
"resolve":{"scale":{"y":"independent"}}
}
